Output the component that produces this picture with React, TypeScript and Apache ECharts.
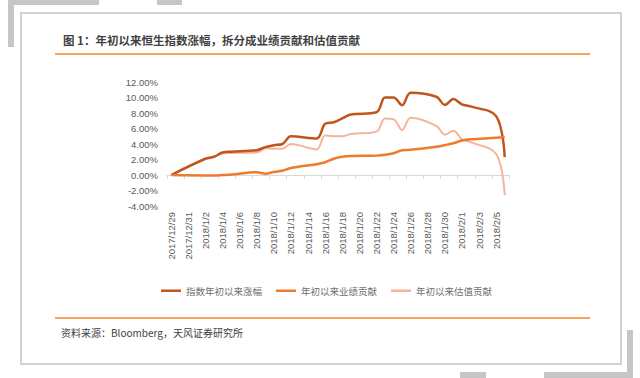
import React, { useEffect, useRef } from "react";
import * as echarts from "echarts";

const categories = [
  "2017/12/29", "2017/12/30", "2017/12/31", "2018/1/1", "2018/1/2", "2018/1/3", "2018/1/4", "2018/1/5",
  "2018/1/6", "2018/1/7", "2018/1/8", "2018/1/9", "2018/1/10", "2018/1/11", "2018/1/12", "2018/1/13",
  "2018/1/14", "2018/1/15", "2018/1/16", "2018/1/17", "2018/1/18", "2018/1/19", "2018/1/20", "2018/1/21",
  "2018/1/22", "2018/1/23", "2018/1/24", "2018/1/25", "2018/1/26", "2018/1/27", "2018/1/28", "2018/1/29",
  "2018/1/30", "2018/1/31", "2018/2/1", "2018/2/2", "2018/2/3", "2018/2/4", "2018/2/5", "2018/2/6",
];

// null = weekend / holiday (no trading)
const indexReturn = [
  0, null, null, null, 2.1, 2.35, 2.9, 3.0,
  null, null, 3.2, 3.6, 3.85, 4.0, 5.0, null,
  null, 4.7, 6.6, 6.8, 7.3, 7.8, null, null,
  8.1, 10.0, 10.0, 9.0, 10.6, null, null, 10.1,
  9.05, 9.8, 9.1, 8.85, null, null, 7.6, 2.3,
];

const earningsContribution = [
  0, null, null, null, -0.05, -0.05, 0.0, 0.05,
  null, null, 0.35, 0.15, 0.4, 0.55, 0.9, null,
  null, 1.4, 1.65, 2.1, 2.35, 2.45, null, null,
  2.5, 2.6, 2.8, 3.2, 3.25, null, null, 3.65,
  3.85, 4.1, 4.45, 4.6, null, null, 4.8, 4.9,
];

const valuationContribution = [
  0, null, null, null, 2.15, 2.35, 2.8, 2.85,
  null, null, 2.9, 3.45, 3.4, 3.4, 4.0, null,
  null, 3.3, 5.1, 5.0, 5.0, 5.3, null, null,
  5.6, 7.3, 7.2, 5.8, 7.4, null, null, 6.35,
  5.2, 5.7, 4.6, 4.25, null, null, 2.7, -2.6,
];

const seriesNames = ["指数年初以来涨幅", "年初以来业绩贡献", "年初以来估值贡献"];
const seriesColors = ["#C0561B", "#EE7A2E", "#F6B49C"];

const titleText = "图 1：年初以来恒生指数涨幅，拆分成业绩贡献和估值贡献";
const sourceText = "资料来源：Bloomberg，天风证券研究所";

const FONT = "'Noto Sans CJK SC', 'Noto Sans', sans-serif";
const AXIS_FONT = "'Liberation Sans', Arial, sans-serif";

export default function App() {
  const ref = useRef<HTMLDivElement>(null);

  useEffect(() => {
    if (!ref.current) return;
    const chart = echarts.init(ref.current, undefined, { renderer: "svg" });
    const grey = "#c6c6c6";
    const orange = "#F5862A";
    chart.setOption({
      animation: false,
      backgroundColor: "#ffffff",
      graphic: [
        { type: "rect", shape: { x: 10, y: 0, width: 89, height: 5 }, style: { fill: grey } },
        { type: "rect", shape: { x: 157, y: 0, width: 25, height: 5 }, style: { fill: grey } },
        { type: "rect", shape: { x: 8, y: 0, width: 6, height: 47 }, style: { fill: grey } },
        { type: "rect", shape: { x: 460, y: 372, width: 26, height: 6 }, style: { fill: grey } },
        { type: "rect", shape: { x: 544, y: 372, width: 89, height: 6 }, style: { fill: grey } },
        { type: "rect", shape: { x: 627, y: 330, width: 6, height: 48 }, style: { fill: grey } },
        {
          type: "rect",
          shape: { x: 21, y: 13, width: 600, height: 351 },
          style: { fill: "#ffffff", stroke: "#d2d2d2", lineWidth: 2 },
          z: -1,
        },
        { type: "line", shape: { x1: 55, y1: 54, x2: 590, y2: 54 }, style: { stroke: orange, lineWidth: 1.5 } },
        { type: "line", shape: { x1: 55, y1: 318, x2: 590, y2: 318 }, style: { stroke: orange, lineWidth: 1.5 } },
        {
          type: "text",
          x: 63,
          y: 40,
          style: {
            text: titleText,
            fill: "#3f3f3f",
            font: `bold 11.5px ${FONT}`,
            verticalAlign: "middle",
          },
        },
        {
          type: "text",
          x: 61,
          y: 332,
          style: {
            text: sourceText,
            fill: "#404040",
            font: `10px ${FONT}`,
            verticalAlign: "middle",
          },
        },
      ],
      legend: {
        left: 156,
        top: 281,
        icon: "rect",
        itemWidth: 20,
        itemHeight: 2.5,
        itemGap: 14,
        data: seriesNames,
        textStyle: { fontSize: 9.5, color: "#6f6f6f", fontFamily: FONT },
      },
      grid: { left: 167, right: 131, top: 82, height: 124, containLabel: false },
      xAxis: [
        {
          type: "category",
          data: categories,
          boundaryGap: true,
          axisLine: { show: false, onZero: false },
          axisTick: { show: false },
          axisLabel: {
            rotate: 90,
            interval: 1,
            fontSize: 9.5,
            color: "#595959",
            fontFamily: AXIS_FONT,
            margin: 6,
          },
        },
        {
          type: "category",
          data: categories,
          position: "bottom",
          boundaryGap: true,
          axisLine: { show: true, onZero: true, lineStyle: { color: "#d9d9d9", width: 1 } },
          axisTick: { show: true, interval: 1, length: 4, lineStyle: { color: "#d9d9d9" } },
          axisLabel: { show: false },
        },
      ],
      yAxis: {
        type: "value",
        min: -4,
        max: 12,
        interval: 2,
        splitLine: { show: false },
        axisLine: { show: false },
        axisTick: { show: false },
        axisLabel: {
          formatter: (v: number) => v.toFixed(2) + "%",
          fontSize: 9.5,
          color: "#595959",
          fontFamily: AXIS_FONT,
          margin: 9,
        },
      },
      series: [
        {
          name: seriesNames[0],
          type: "line",
          data: indexReturn,
          smooth: 0.35,
          connectNulls: true,
          symbol: "none",
          xAxisIndex: 0,
          color: seriesColors[0],
          lineStyle: { width: 2.5, color: seriesColors[0] },
          z: 3,
        },
        {
          name: seriesNames[1],
          type: "line",
          data: earningsContribution,
          smooth: 0.35,
          connectNulls: true,
          symbol: "none",
          xAxisIndex: 0,
          color: seriesColors[1],
          lineStyle: { width: 2.5, color: seriesColors[1] },
          z: 4,
        },
        {
          name: seriesNames[2],
          type: "line",
          data: valuationContribution,
          smooth: 0.35,
          connectNulls: true,
          symbol: "none",
          xAxisIndex: 0,
          color: seriesColors[2],
          lineStyle: { width: 2, color: seriesColors[2] },
          z: 2,
        },
      ],
    });
    return () => chart.dispose();
  }, []);

  return (
    <div
      ref={ref}
      style={{ position: "fixed", left: 0, top: 0, width: 640, height: 378 }}
    />
  );
}
